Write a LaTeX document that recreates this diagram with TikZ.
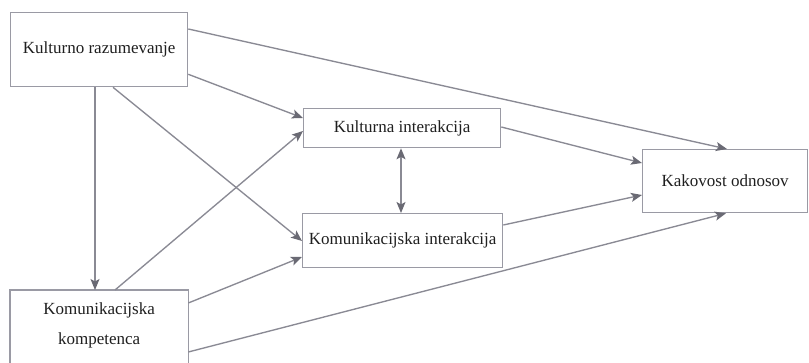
\documentclass[tikz,border=0pt]{standalone}
\usepackage{fontspec}
\setmainfont{Liberation Serif}
\usetikzlibrary{arrows.meta}
\definecolor{linegray}{HTML}{8A8A94}
\definecolor{tipgray}{HTML}{6A6A74}
\definecolor{framegray}{HTML}{9A9AA4}
\begin{document}
\begin{tikzpicture}[x=1pt,y=-1pt,
  frame/.style={draw=framegray,line width=1.3pt},
  varbox/.style={frame,anchor=north west,inner sep=0pt,align=center,
    font=\fontsize{17}{30}\selectfont,text=black!88},
  tip/.style={Stealth[length=11pt,width=9pt,inset=2.5pt,color=tipgray]},
  link/.style={draw=linegray,line width=1.35pt,-{Stealth[length=11pt,width=9pt,inset=2.5pt,color=tipgray]}},
  both/.style={draw=linegray,line width=1.35pt,
    {Stealth[length=11pt,width=9pt,inset=2.5pt,color=tipgray]}-{Stealth[length=11pt,width=9pt,inset=2.5pt,color=tipgray]}}]
\useasboundingbox (0,0) rectangle (809,363);
\clip (0,0) rectangle (809,363);
\fill[white] (0,0) rectangle (809,363);

% variables
\node[varbox,minimum width=177pt,minimum height=74pt] (kr) at (10,12) {Kulturno razumevanje};
\node[varbox,minimum width=197pt,minimum height=39pt] (ki) at (303,108) {Kulturna interakcija};
\node[varbox,minimum width=200pt,minimum height=54pt] (kmi) at (302,213) {Komunikacijska interakcija};
\node[varbox,minimum width=165pt,minimum height=63pt] (ko) at (642,149) {Kakovost odnosov};
\node[varbox,draw=none,minimum width=177pt,minimum height=70pt] (kk) at (10,290) {Komunikacijska\\kompetenca};
% the lower box runs past the bottom edge
\draw[frame] ([yshift=-30pt]kk.south west) |- (kk.north east) -- ([yshift=-30pt]kk.south east);

% paths
\draw[link] ([yshift=-17pt]kr.north east) -- ([xshift=85pt]ko.north west);
\draw[link] ([yshift=13pt]kr.south east) -- ([yshift=-10pt]ki.north west);
\draw[link] ([xshift=85pt]kr.south west) -- ([xshift=85pt]kk.north west);
\draw[link] ([xshift=103pt]kr.south west) -- ([yshift=-28pt]kmi.north west);
\draw[link] ([xshift=105pt]kk.north west) -- ([yshift=-23pt]ki.north west);
\draw[link] ([yshift=-13pt]kk.north east) -- ([yshift=-44pt]kmi.north west);
\draw[link] ([yshift=-62pt]kk.north east) -- ([xshift=84pt]ko.south west);
\draw[link] ([yshift=-19pt]ki.north east) -- ([yshift=-14pt]ko.north west);
\draw[link] ([yshift=-12pt]kmi.north east) -- ([yshift=-46pt]ko.north west);
\draw[both] ([xshift=98pt]ki.south west) -- ([xshift=99pt]kmi.north west);
\end{tikzpicture}
\end{document}
